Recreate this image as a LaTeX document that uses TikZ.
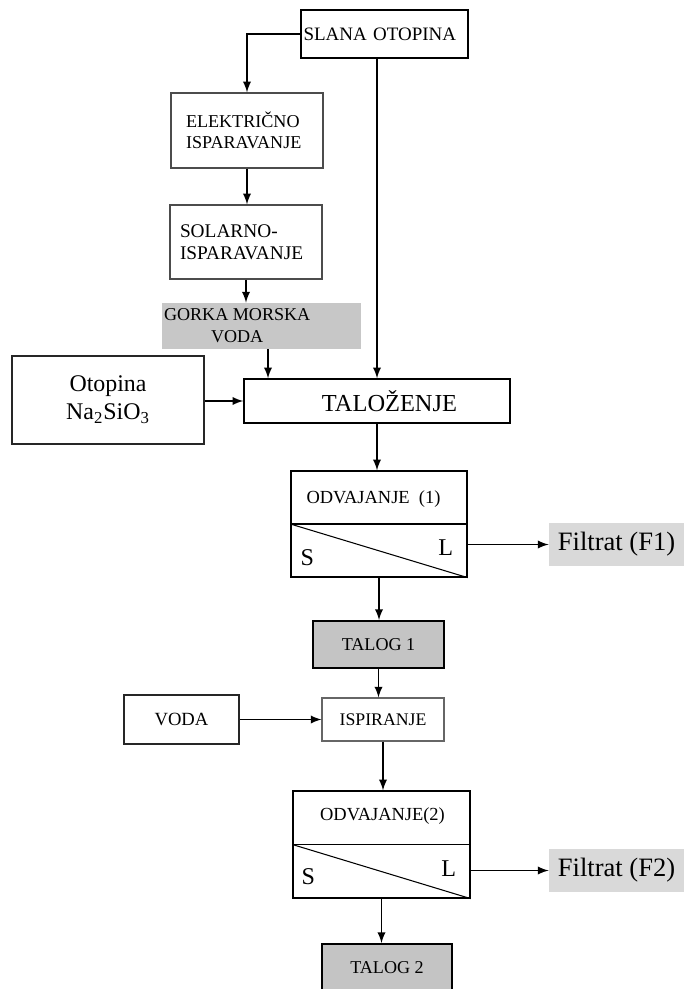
\documentclass[tikz,border=0pt]{standalone}
\usepackage{fontspec}
\setmainfont{Liberation Serif}
\usetikzlibrary{calc}

\tikzset{
  box/.style={draw,inner sep=0pt},
  arr/.style={->,line width=1.1pt,-latex},
}

\begin{document}
\begin{tikzpicture}[x=0.2mm,y=-0.2mm]
        \useasboundingbox (0,0) rectangle (684,989);

        \node[box,line width=1.1pt,minimum width=33.4mm,minimum height=9.6mm,text width=32.4mm,align=left,font=\fontsize{10.8}{12}\selectfont] (slana) at (384.5,34) {SLANA OTOPINA};
        \node[box,draw=black!70,line width=0.7pt,minimum width=30.4mm,minimum height=15mm,text width=24.4mm,align=left,font=\fontsize{10.3}{12}\selectfont] (elek) at (247,130.5) {ELEKTRIČNO\\ISPARAVANJE};
        \node[box,draw=black!70,line width=0.7pt,minimum width=30.4mm,minimum height=14.8mm,text width=26.4mm,align=left,font=\fontsize{11}{12.5}\selectfont] (solar) at (246,242) {SOLARNO-\\ISPARAVANJE};
        \node[box,draw=none,fill=black!22,minimum width=39.8mm,minimum height=9.2mm] (gorka) at (261.5,326) {};
        \node[anchor=west,inner sep=0pt,align=center,font=\fontsize{10.3}{12.5}\selectfont] (gorkatxt) at ($(gorka.west)+(2,0)$) {GORKA MORSKA\\VODA};

        \node[box,line width=1.1pt,draw=black!85,minimum width=38.4mm,minimum height=17.6mm,align=center,font=\fontsize{13.6}{16}\selectfont] (otop) at (108,400) {Otopina\\Na\textsubscript{2}SiO\textsubscript{3}};
        \node[box,line width=0.8pt,minimum width=53.2mm,minimum height=8.8mm,font=\fontsize{13.9}{16}\selectfont] (talo) at (377,401) {\hspace*{5mm}TALOŽENJE};

        % odvajanje 1
        \node[box,line width=0.7pt,minimum width=35.2mm,minimum height=21.2mm] (odv1) at (379,524) {};
        \draw[line width=0.7pt] (odv1.west) -- (odv1.east);
        \draw[line width=0.6pt] (odv1.west) -- (odv1.south east);
        \node[font=\fontsize{10.5}{12}\selectfont] (odv1txt) at ($(odv1.north)+(-5.5,29)$) {ODVAJANJE\ \ (1)};
        \node[font=\fontsize{13.7}{16}\selectfont] (s1) at ($(odv1.south west)+(17,-20)$) {S};
        \node[font=\fontsize{13.7}{16}\selectfont] (l1) at ($(odv1.south east)+(-22,-30)$) {L};
        \node[box,draw=none,fill=black!15,minimum width=27mm,minimum height=8.6mm,font=\fontsize{15.1}{17}\selectfont] (filt1) at (616.5,544.5) {Filtrat (F1)};

        \node[box,line width=1.1pt,fill=black!23,minimum width=26.2mm,minimum height=9.4mm,font=\fontsize{10.3}{12}\selectfont] (talog1) at (378.5,644.5) {TALOG 1};
        \node[box,line width=1.1pt,draw=black!85,minimum width=23mm,minimum height=9.8mm,font=\fontsize{10.6}{12}\selectfont] (voda) at (181.5,719.5) {VODA};
        \node[box,line width=0.6pt,draw=black!60,minimum width=24.4mm,minimum height=8.6mm,font=\fontsize{10.1}{12}\selectfont] (ispir) at (383,719.5) {ISPIRANJE};

        % odvajanje 2
        \node[box,line width=0.7pt,minimum width=35.4mm,minimum height=21.4mm] (odv2) at (381.5,844.5) {};
        \draw[line width=0.7pt] (odv2.west) -- (odv2.east);
        \draw[line width=0.6pt] (odv2.west) -- (odv2.south east);
        \node[font=\fontsize{10.5}{12}\selectfont] (odv2txt) at ($(odv2.north)+(1,26)$) {ODVAJANJE(2)};
        \node[font=\fontsize{13.7}{16}\selectfont] (s2) at ($(odv2.south west)+(16,-22)$) {S};
        \node[font=\fontsize{13.7}{16}\selectfont] (l2) at ($(odv2.south east)+(-22,-30)$) {L};
        \node[box,draw=none,fill=black!15,minimum width=27mm,minimum height=8.6mm,font=\fontsize{15.1}{17}\selectfont] (filt2) at (616.5,870.5) {Filtrat (F2)};

        \node[box,line width=1.1pt,fill=black!23,minimum width=26mm,minimum height=9.6mm,font=\fontsize{10.3}{12}\selectfont] (talog2) at (387,968) {TALOG 2};

        % connectors
        \coordinate (gout) at ($(gorka.south)+(6.5,0)$);
        \draw[arr] (slana.west) -| (elek.north);
        \draw[arr] (slana.south -| talo.north) -- (talo.north);
        \draw[arr] (elek.south) -- (elek.south |- solar.north);
        \draw[arr] (solar.south) -- (solar.south |- gorka.north);
        \draw[arr] (gout) -- (gout |- talo.north);
        \draw[arr] (otop.east |- talo.west) -- (talo.west);
        \draw[arr] (talo.south) -- (talo.south |- odv1.north);
        \draw[arr] (filt1.west -| odv1.east) -- (filt1.west);
        \draw[arr] (odv1.south) -- (odv1.south |- talog1.north);
        \draw[arr] (talog1.south) -- (talog1.south |- ispir.north);
        \draw[arr] (voda.east) -- (ispir.west);
        \draw[arr] (ispir.south) -- (ispir.south |- odv2.north);
        \draw[arr] (filt2.west -| odv2.east) -- (filt2.west);
        \draw[arr] (odv2.south) -- (odv2.south |- talog2.north);
    \end{tikzpicture}
\end{document}
